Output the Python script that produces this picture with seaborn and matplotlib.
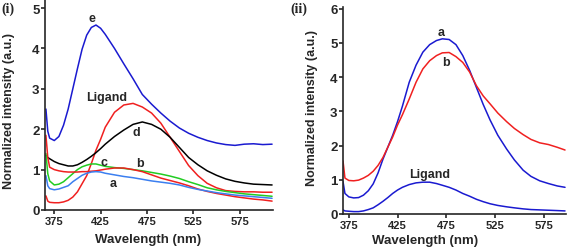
import matplotlib
matplotlib.use("Agg")
import matplotlib.pyplot as plt
import seaborn as sns
import pandas as pd

# panel (i): emission spectra, wavelength in nm
wl_i = [366, 368, 370, 375, 380, 385, 390, 395, 400, 405, 410, 415, 420, 425, 430,
        440, 450, 460, 470, 480, 490, 500, 510, 520, 530, 540, 550, 560, 570, 580,
        590, 600, 610]
curve_e = [2.5, 1.95, 1.78, 1.72, 1.82, 2.1, 2.5, 3.0, 3.5, 3.98, 4.33, 4.52, 4.58, 4.5, 4.35,
           4.0, 3.62, 3.25, 2.86, 2.62, 2.4, 2.2, 2.03, 1.9, 1.8, 1.72, 1.66, 1.62, 1.6, 1.63,
           1.64, 1.62, 1.63]
ligand_i = [0.35, 0.22, 0.19, 0.18, 0.18, 0.2, 0.24, 0.32, 0.45, 0.65, 0.85, 1.15, 1.48, 1.75, 2.05,
            2.42, 2.6, 2.64, 2.55, 2.4, 2.15, 1.8, 1.45, 1.1, 0.85, 0.66, 0.55, 0.48, 0.46, 0.45,
            0.45, 0.44, 0.44]
curve_d = [1.35, 1.3, 1.27, 1.2, 1.15, 1.12, 1.09, 1.09, 1.12, 1.18, 1.25, 1.33, 1.42, 1.52, 1.63,
           1.82, 1.98, 2.12, 2.18, 2.12, 2.0, 1.8, 1.55, 1.3, 1.12, 0.97, 0.86, 0.77, 0.71, 0.67,
           0.64, 0.63, 0.62]
curve_c = [1.4, 0.9, 0.72, 0.62, 0.64, 0.7, 0.8, 0.9, 1.0, 1.07, 1.11, 1.14, 1.14, 1.11, 1.08,
           1.05, 1.03, 1.0, 0.97, 0.93, 0.89, 0.84, 0.78, 0.7, 0.63, 0.55, 0.5, 0.46, 0.43, 0.4,
           0.38, 0.36, 0.34]
curve_b = [1.85, 1.3, 1.06, 1.0, 0.97, 0.95, 0.94, 0.94, 0.94, 0.95, 0.95, 0.96, 0.97, 0.99, 1.01,
           1.04, 1.04, 1.0, 0.95, 0.87, 0.79, 0.73, 0.67, 0.6, 0.52, 0.46, 0.41, 0.37, 0.33, 0.3,
           0.27, 0.25, 0.22]
curve_a = [0.85, 0.6, 0.53, 0.5, 0.52, 0.56, 0.6, 0.7, 0.78, 0.86, 0.91, 0.94, 0.95, 0.94, 0.91,
           0.87, 0.83, 0.8, 0.76, 0.72, 0.69, 0.66, 0.62, 0.56, 0.51, 0.47, 0.43, 0.4, 0.37, 0.35,
           0.33, 0.31, 0.29]

# panel (ii)
wl_ii = [369, 371, 375, 380, 385, 390, 395, 400, 405, 410, 415, 420, 425, 430, 437, 444,
         451, 458, 465, 471, 478, 485, 492, 499, 506, 513, 520, 528, 537, 545, 554, 562,
         571, 580, 589, 597]
curve_a2 = [0.95, 0.6, 0.5, 0.47, 0.48, 0.55, 0.68, 0.88, 1.2, 1.6, 1.95, 2.3, 2.7, 3.15, 3.85, 4.35,
            4.73, 4.95, 5.07, 5.12, 5.1, 4.95, 4.63, 4.2, 3.7, 3.2, 2.75, 2.3, 1.9, 1.58, 1.28, 1.1,
            0.97, 0.89, 0.82, 0.78]
curve_b2 = [1.55, 1.05, 0.98, 0.97, 0.99, 1.05, 1.13, 1.25, 1.42, 1.65, 1.95, 2.25, 2.6, 2.9, 3.36, 3.85,
            4.24, 4.48, 4.63, 4.71, 4.72, 4.6, 4.43, 4.15, 3.75, 3.45, 3.22, 2.95, 2.7, 2.5, 2.32, 2.18,
            2.08, 2.03, 1.95, 1.87]
ligand_ii = [0.12, 0.09, 0.08, 0.07, 0.07, 0.09, 0.13, 0.18, 0.27, 0.37, 0.48, 0.6, 0.7, 0.78, 0.86, 0.91,
             0.93, 0.93, 0.89, 0.84, 0.78, 0.7, 0.6, 0.52, 0.43, 0.36, 0.3, 0.25, 0.21, 0.18, 0.15, 0.13,
             0.12, 0.11, 0.1, 0.09]

sns.set_style("ticks")
plt.rcParams["font.family"] = ["Liberation Sans", "DejaVu Sans"]
plt.rcParams["font.weight"] = "bold"
plt.rcParams["axes.linewidth"] = 1.2

fig = plt.figure(figsize=(5.69, 2.51), dpi=100)
ax1 = fig.add_axes([45 / 569, 40 / 251, 228 / 569, 210 / 251])
ax2 = fig.add_axes([343 / 569, 36 / 251, 223 / 569, 207 / 251])

blue = "#1a1ad0"
red = "#f02020"
panel1 = [(curve_e, blue), (ligand_i, red), (curve_d, "black"),
          (curve_c, "#22cc22"), (curve_b, red), (curve_a, "#3b7ff0")]
for vals, col in panel1:
    df = pd.DataFrame({"wl": wl_i, "I": vals})
    sns.lineplot(data=df, x="wl", y="I", color=col, lw=1.1, ax=ax1)

panel2 = [(curve_a2, blue), (curve_b2, red), (ligand_ii, blue)]
for vals, col in panel2:
    df = pd.DataFrame({"wl": wl_ii, "I": vals})
    sns.lineplot(data=df, x="wl", y="I", color=col, lw=1.1, ax=ax2)

ax1.set_xlim(365, 611)
ax1.set_ylim(0, 5.2)
ax2.set_xlim(369, 598)
ax2.set_ylim(0, 6.05)

for ax in (ax1, ax2):
    sns.despine(ax=ax)
    ax.set_xticks([375, 425, 475, 525, 575])
    ax.tick_params(axis="x", labelsize=8, length=3, width=1.2, pad=1)
    ax.tick_params(axis="y", labelsize=9.5, length=3, width=1.2, pad=1)
    ax.set_xlabel("Wavelength (nm)", fontsize=9.5, fontweight="bold")
    ax.set_ylabel("Normalized intensity (a.u.)", fontsize=9, fontweight="bold")
ax1.set_yticks(range(0, 6))
ax2.set_yticks(range(0, 7))
ax1.xaxis.set_label_coords(0.452, -0.11)
ax2.xaxis.set_label_coords(0.37, -0.095)
ax1.yaxis.set_label_coords(-0.13, 0.476)
ax2.yaxis.set_label_coords(-0.11, 0.517)

lbl = dict(fontsize=9, fontweight="bold", ha="center", va="center")
ax1.text(416, 4.75, "e", **lbl)
ax1.text(432, 2.79, "Ligand", **lbl)
ax1.text(463, 1.92, "d", **lbl)
ax1.text(429, 1.19, "c", **lbl)
ax1.text(467, 1.17, "b", **lbl)
ax1.text(439, 0.67, "a", **lbl)
ax2.text(470, 5.32, "a", **lbl)
ax2.text(475, 4.44, "b", **lbl)
ax2.text(458, 1.17, "Ligand", **lbl)

fig.text(0.002, 0.99, "(i)", fontsize=10, fontweight="bold", va="top",
         family=["Liberation Serif", "DejaVu Serif"])
fig.text(290 / 569, 0.99, "(ii)", fontsize=10, fontweight="bold", va="top",
         family=["Liberation Serif", "DejaVu Serif"])

fig.savefig("out.png", dpi=100)
